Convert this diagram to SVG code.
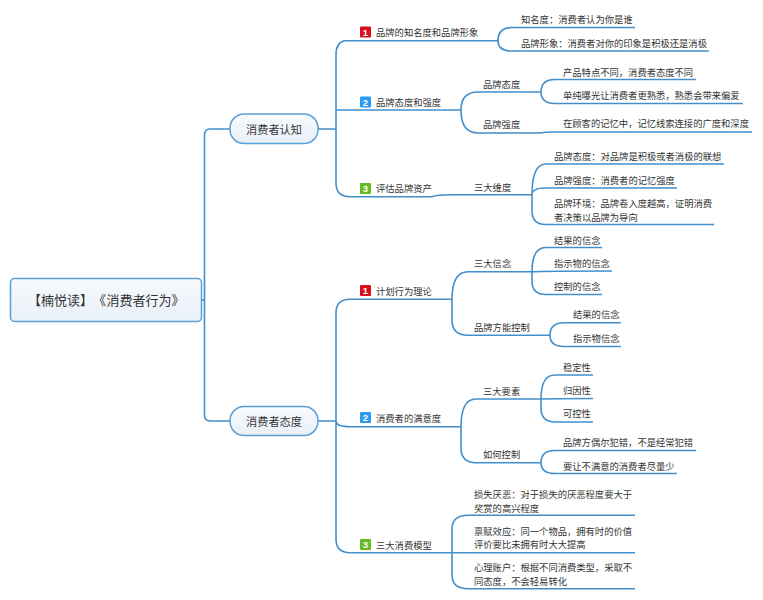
<svg xmlns="http://www.w3.org/2000/svg" width="763" height="600" viewBox="0 0 763 600">
<style>
text{font-family:"Noto Sans CJK SC","Liberation Sans",sans-serif;fill:#333;font-size:9.3px}
.c path{fill:none;stroke:#428fcd;stroke-width:1.6}
.n{fill:url(#g);stroke:#5b9fd4;stroke-width:1.5}
.m{font-size:11.2px;text-anchor:middle}
.t{font-size:13px}
.b{font-family:"Liberation Sans",sans-serif;font-weight:bold;font-size:9.5px;fill:#fff;text-anchor:middle}
.r{fill:#d9101a}.u{fill:#2a9bf5}.e{fill:#66bb22}
</style>
<defs><linearGradient id="g" x1="0" y1="0" x2="0" y2="1"><stop offset="0" stop-color="#f8fafd"/><stop offset="1" stop-color="#e8f0f8"/></linearGradient></defs>
<rect width="763" height="600" fill="#fff"/>
<g class="c" id="connectors">
<path d="M201 300H204.5M230 129H210Q204.5 129 204.5 135V415Q204.5 421 210 421H230"/>
<path d="M318 129H336M345 40.7Q336 42 336 55V183Q336 196.7 350 196.7H432Q436 194.7 452 194.7H532M336 110Q336 110 350 110H461M345 40.700H498"/>
<path d="M498 40.7Q498 27.5 512 27.5H635M498 40.7Q498 51 512 51H709"/>
<path d="M461 110Q461 92 478 92H541M461 110Q461 133 478 133H540Q545 132 552 132H752"/>
<path d="M541 92Q541 79.5 555 79.5H696M541 92Q541 103.5 555 103.5H743"/>
<path d="M532 194.7Q532 164 546 164H724M532 194.7Q532 188 546 188H677M532 194.7V211Q532 224.5 546 224.5H714"/>
<path d="M318 421H336M336 313Q336 299.3 350 299.3H452M336 421Q336 426.7 350 426.7H461M336 313V539Q336 552.7 350 552.7H452"/>
<path d="M452 299.3Q452 271.7 468 271.7H532Q545 271 612 271M452 299.3V320Q452 335.3 468 335.3H550"/>
<path d="M532 271.7Q532 247.5 546 247.5H602M532 271.7V281Q532 294.5 546 294.5H602"/>
<path d="M550 335.3Q550 322.7 564 322.7H621M550 335.3Q550 346.5 564 346.5H621"/>
<path d="M461 426.7Q461 399 476 399H541M461 426.7V448Q461 462.7 476 462.7H541"/>
<path d="M541 399Q541 375 555 375H593M541 399Q550 398.5 593 398.5M541 399V408Q541 422 555 422H593"/>
<path d="M541 462.7Q541 450.5 555 450.5H696M541 462.7Q541 473.5 555 473.5H677"/>
<path d="M452 552.7V529Q452 515.3 468 515.3H635M452 552.7H635M452 552.7V575Q452 588.7 468 588.7H635"/>
</g>
<g id="root"><rect class="n" x="10.500" y="278.500" width="191" height="43" rx="4"/><text class="t" x="28 41 54 67 80 93 106.500 119.500 132.500 145.500 158.500 171.500" y="305">【楠悦读】《消费者行为》</text></g>
<g id="n1"><rect class="n" x="230" y="114" width="88" height="29.500" rx="14"/><text class="m" x="274" y="134">消费者认知</text></g>
<g id="n2"><rect class="n" x="230" y="406.500" width="88" height="29" rx="14"/><text class="m" x="274" y="426">消费者态度</text></g>
<g id="a1"><rect class="r" x="360" y="26.500" width="11" height="11" rx="1"/><text class="b" x="365.500" y="35.500">1</text><text x="376" y="36">品牌的知名度和品牌形象</text></g>
<g id="a2"><rect class="u" x="360" y="96.500" width="11" height="11" rx="1"/><text class="b" x="365.500" y="105.500">2</text><text x="376" y="106">品牌态度和强度</text></g>
<g id="a3"><rect class="e" x="360" y="183" width="11" height="11" rx="1"/><text class="b" x="365.500" y="192">3</text><text x="376" y="192">评估品牌资产</text></g>
<g id="a11"><text x="521" y="23">知名度：消费者认为你是谁</text></g>
<g id="a12"><text x="521" y="47">品牌形象：消费者对你的印象是积极还是消极</text></g>
<g id="a21"><text x="483" y="88">品牌态度</text></g>
<g id="a22"><text x="483" y="128">品牌强度</text></g>
<g id="a211"><text x="563" y="76">产品特点不同，消费者态度不同</text></g>
<g id="a212"><text x="563" y="99">单纯曝光让消费者更熟悉，熟悉会带来偏爱</text></g>
<g id="a221"><text x="563" y="127">在顾客的记忆中，记忆线索连接的广度和深度</text></g>
<g id="a31"><text x="474" y="191">三大维度</text></g>
<g id="a311"><text x="554" y="160">品牌态度：对品牌是积极或者消极的联想</text></g>
<g id="a312"><text x="554" y="184">品牌强度：消费者的记忆强度</text></g>
<g id="a313"><text x="554" y="207">品牌环境：品牌卷入度越高，证明消费</text><text x="554" y="221">者决策以品牌为导向</text></g>
<g id="b1"><rect class="r" x="360" y="285" width="11" height="11" rx="1"/><text class="b" x="365.500" y="294">1</text><text x="376" y="295">计划行为理论</text></g>
<g id="b2"><rect class="u" x="360" y="412" width="11" height="11" rx="1"/><text class="b" x="365.500" y="421">2</text><text x="376" y="422">消费者的满意度</text></g>
<g id="b3"><rect class="e" x="360" y="539" width="11" height="11" rx="1"/><text class="b" x="365.500" y="548">3</text><text x="376" y="549">三大消费模型</text></g>
<g id="b11"><text x="474" y="267">三大信念</text></g>
<g id="b111"><text x="554" y="244">结果的信念</text></g>
<g id="b112"><text x="554" y="267">指示物的信念</text></g>
<g id="b113"><text x="554" y="290">控制的信念</text></g>
<g id="b12"><text x="474" y="331">品牌方能控制</text></g>
<g id="b121"><text x="573" y="318">结果的信念</text></g>
<g id="b122"><text x="573" y="342">指示物信念</text></g>
<g id="b21"><text x="483" y="395">三大要素</text></g>
<g id="b211"><text x="563" y="371">稳定性</text></g>
<g id="b212"><text x="563" y="394">归因性</text></g>
<g id="b213"><text x="563" y="417">可控性</text></g>
<g id="b22"><text x="483" y="458">如何控制</text></g>
<g id="b221"><text x="563" y="446">品牌方偶尔犯错，不是经常犯错</text></g>
<g id="b222"><text x="563" y="470">要让不满意的消费者尽量少</text></g>
<g id="b31"><text x="474" y="498">损失厌恶：对于损失的厌恶程度要大于</text><text x="474" y="512">奖赏的高兴程度</text></g>
<g id="b32"><text x="474" y="535">禀赋效应：同一个物品，拥有时的价值</text><text x="474" y="548">评价要比未拥有时大大提高</text></g>
<g id="b33"><text x="474" y="571">心理账户：根据不同消费类型，采取不</text><text x="474" y="585">同态度，不会轻易转化</text></g>
</svg>
